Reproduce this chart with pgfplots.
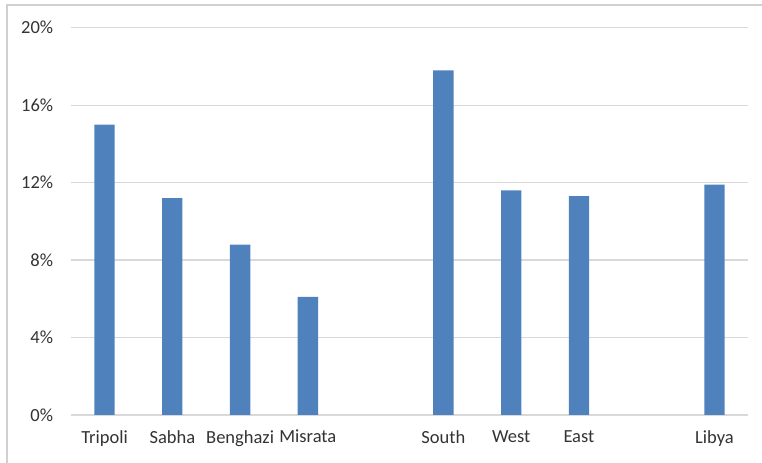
\documentclass[border=0pt]{standalone}
\usepackage{pgfplots}
\pgfplotsset{compat=1.18}
\usepackage{fontspec}
\setmainfont{Carlito}
\definecolor{barblue}{HTML}{4F81BD}
\definecolor{gridgray}{HTML}{D9D9D9}
\definecolor{framegray}{HTML}{D0D0D0}
\definecolor{textgray}{HTML}{333333}

\begin{document}
\begin{tikzpicture}[x=1bp,y=1bp]
\useasboundingbox (0,0) rectangle (762,463);
% chart area frame
\draw[framegray, line width=2bp] (7,-20) rectangle (800,458);
\begin{axis}[
  at={(70.7bp,48bp)}, anchor=south west,
  scale only axis, width=677.6bp, height=387.3bp,
  xmin=-0.5, xmax=9.5, ymin=0, ymax=20,
  ybar, bar width=20.3bp,
  axis line style={draw=none},
  major tick length=0pt,
  ytick={0,4,...,20},
  yticklabel={\pgfmathprintnumber{\tick}\%},
  /pgf/number format/assume math mode=true,
  xtick={0,1,2,3,5,6,7,9},
  xticklabels={Tripoli,Sabha,Benghazi,Misrata,South,West,East,Libya},
  ymajorgrids, grid style={gridgray, line width=1.2bp},
  tick label style={font=\fontsize{18.5bp}{22bp}\selectfont, text=textgray},
  yticklabel style={anchor=east, inner sep=0pt, xshift=-17.4bp},
  xticklabel style={anchor=north, inner sep=0pt, yshift=-15bp},
  clip=false,
]
\addplot[fill=barblue, draw=none] coordinates {
  (0,15.0) (1,11.2) (2,8.8) (3,6.1)
  (5,17.8) (6,11.6) (7,11.3) (9,11.9)
};
\end{axis}
\end{tikzpicture}
\end{document}
